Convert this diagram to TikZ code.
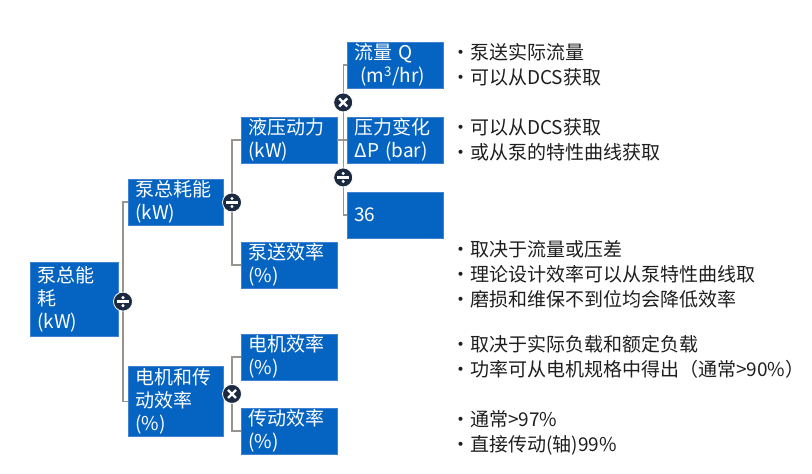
\documentclass[tikz,border=0pt]{standalone}
\usepackage{fontspec}
\setmainfont{Noto Sans CJK SC}
\usetikzlibrary{positioning, calc}

\begin{document}
\begin{tikzpicture}[x=1pt, y=-1pt]
        \definecolor{boxblue}{HTML}{0563C1}
        \definecolor{boxedge}{HTML}{3F82D2}
        \definecolor{opnavy}{HTML}{1B2A40}
        \definecolor{linkgray}{HTML}{9A948E}
        \definecolor{notegray}{HTML}{1E1E1E}
        \tikzset{
            box/.style={rectangle, fill=boxblue, draw=boxedge, thin, text=white,
                anchor=north west, inner xsep=7pt, inner ysep=0pt, align=left,
                text width=82pt, minimum height=45.5pt,
                font=\fontsize{19}{23}\selectfont},
            link/.style={draw=linkgray, line width=1.4pt},
            opbase/.style={circle, fill=opnavy, draw=white, line width=0.8pt,
                minimum size=19pt, inner sep=0pt},
            opmul/.style={opbase, path picture={
                \draw[white, line width=2.4pt]
                    ([shift={(-4pt,-4pt)}]path picture bounding box.center) -- ([shift={(4pt,4pt)}]path picture bounding box.center)
                    ([shift={(-4pt,4pt)}]path picture bounding box.center) -- ([shift={(4pt,-4pt)}]path picture bounding box.center);}},
            opdiv/.style={opbase, path picture={
                \fill[white] ([shift={(-6pt,-1.1pt)}]path picture bounding box.center) rectangle ([shift={(6pt,1.1pt)}]path picture bounding box.center);
                \fill[white] ([yshift=4pt]path picture bounding box.center) circle (1.7pt);
                \fill[white] ([yshift=-4pt]path picture bounding box.center) circle (1.7pt);}},
            notes/.style={anchor=north west, inner sep=0pt, align=left, text=notegray,
                font=\fontsize{19}{25}\selectfont}
        }
        \useasboundingbox (0,0) rectangle (812,474);

        % boxes
        \node[box, text width=74pt, minimum height=74pt] (R) at (30,262) {泵总能\\耗\\(kW)};
        \node[box, text width=81pt] (E) at (128,179) {泵总耗能\\(kW)};
        \node[box, text width=81pt, minimum height=70pt] (M) at (128,366) {电机和传\\动效率\\(\%)};
        \node[box] (H) at (241,117) {液压动力\\(kW)};
        \node[box] (P) at (241,242) {泵送效率\\(\%)};
        \node[box] (ME) at (241,334) {电机效率\\(\%)};
        \node[box] (TE) at (241,408) {传动效率\\(\%)};
        \node[box, right=10pt of H] (DP) {压力变化\\ΔP (bar)};
        \node[box] (Q) at (347,42) {流量 Q\\\hspace*{6pt}(m\textsuperscript{3}/hr)};
        \node[box] (N) at (347,192) {36};

        % operator points
        \coordinate (o1) at ($(E.west)!0.5!(M.west) + (-5,0)$);
        \coordinate (o2) at ($(H.west)!0.5!(P.west) + (-9,0)$);
        \coordinate (o3) at ($(ME.west)!0.5!(TE.west) + (-9,0)$);
        \coordinate (o4) at ($(Q.west)!0.5!(DP.west) + (-4,0)$);
        \coordinate (o5) at ($(DP.west)!0.5!(N.west) + (-4,0)$);

        \draw[link] (E.west) -| (o1) |- (M.west);
        \draw[link] (R.east |- o1) -- (o1);
        \draw[link] (H.west) -| (o2) |- (P.west);
        \draw[link] (E.east |- o2) -- (o2);
        \draw[link] (ME.west) -| (o3) |- (TE.west);
        \draw[link] (M.east |- o3) -- (o3);
        \draw[link] (Q.west) -| (o4) -- (o5) |- (N.west);
        \draw[link] (H.east) -- (DP.west);

        \node[opdiv] (d1) at (o1) {};
        \node[opdiv] (d2) at (o2) {};
        \node[opmul] (x3) at (o3) {};
        \node[opmul] (x4) at (o4) {};
        \node[opdiv] (d5) at (o5) {};

        % notes
        \node[notes] (t1) at (451,43.5) {•\hspace{0pt}泵送实际流量\\•\hspace{0pt}可以从DCS获取};
        \node[notes] (t2) at (451,118.5) {•\hspace{0pt}可以从DCS获取\\•\hspace{0pt}或从泵的特性曲线获取};
        \node[notes] (t3) at (451,240.5) {•\hspace{0pt}取决于流量或压差\\•\hspace{0pt}理论设计效率可以从泵特性曲线取\\•\hspace{0pt}磨损和维保不到位均会降低效率};
        \node[notes] (t4) at (451,335.5) {•\hspace{0pt}取决于实际负载和额定负载\\•\hspace{0pt}功率可从电机规格中得出（通常>90\%）};
        \node[notes] (t5) at (451,410.5) {•\hspace{0pt}通常>97\%\\•\hspace{0pt}直接传动(轴)99\%};
\end{tikzpicture}
\end{document}
